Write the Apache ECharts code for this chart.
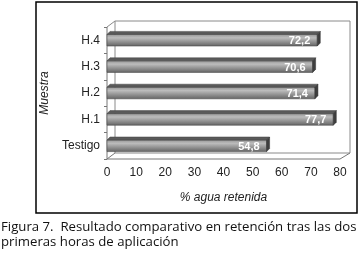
<!DOCTYPE html>
<html>
<head>
<meta charset="utf-8">
<script src="https://cdn.jsdelivr.net/npm/echarts@6/dist/echarts.min.js"></script>
<style>
html,body{margin:0;padding:0;background:#fff;}
#main{width:364px;height:261px;}
</style>
</head>
<body>
<div id="main"></div>
<script>
// datos
var muestras = ['Testigo', 'H.1', 'H.2', 'H.3', 'H.4'];
var agua = [54.8, 77.7, 71.4, 70.6, 72.2];
var ticksX = [0, 10, 20, 30, 40, 50, 60, 70, 80];

var fuente = '"Liberation Sans", Arial, sans-serif';
var D = 3; // profundidad de la barra

function barra3d(params, api) {
	var v = api.value(0), c = api.value(1);
	var p0 = api.coord([0, c]);
	var p1 = api.coord([v, c]);
	var h = api.size([0, 1])[1] * 0.44;
	var x0 = p0[0], x1 = p1[0], yt = p0[1] - h / 2, yb = p0[1] + h / 2;
	return {
		type: 'group',
		children: [{
			type: 'rect',
			shape: {x: x0, y: yt, width: x1 - x0, height: h},
			style: {
				fill: new echarts.graphic.LinearGradient(0, 0, 0, 1, [
					{offset: 0, color: '#949494'},
					{offset: 0.3, color: '#bcbcbc'},
					{offset: 1, color: '#636363'}
				]),
				stroke: '#4a4a4a', lineWidth: 0.6
			}
		}, {
			type: 'polygon',
			shape: {points: [[x0, yt], [x0 + D, yt - D], [x1 + D, yt - D], [x1, yt]]},
			style: {fill: '#5a5a5a', stroke: '#444', lineWidth: 0.5}
		}, {
			type: 'polygon',
			shape: {points: [[x1, yt], [x1 + D, yt - D], [x1 + D, yb - D], [x1, yb]]},
			style: {fill: '#3e3e3e', stroke: '#333', lineWidth: 0.5}
		}, {
			type: 'text',
			style: {
				text: String(v).replace('.', ','),
				x: x1 - 7, y: p0[1] + 1,
				align: 'right', verticalAlign: 'middle',
				fill: '#fff', font: 'bold 11px ' + fuente
			}
		}]
	};
}

var chart = echarts.init(document.getElementById('main'));
chart.setOption({
	backgroundColor: '#fff',
	animation: false,
	graphic: [{
		type: 'rect', shape: {x: 36, y: 2, width: 321, height: 211},
		style: {fill: 'none', stroke: '#000', lineWidth: 1.5}
	}, {
		type: 'polyline', shape: {points: [[107, 27], [115, 21], [350, 21], [350, 153], [115, 153], [115, 21]]},
		style: {stroke: '#8a8a8a', lineWidth: 1, fill: 'none'}
	}, {
		type: 'polyline', shape: {points: [[107, 159], [107, 27]]},
		style: {stroke: '#777', lineWidth: 1, fill: 'none'}
	}, {
		type: 'polyline', shape: {points: [[107, 159], [115, 153]]},
		style: {stroke: '#777', lineWidth: 1, fill: 'none'}
	}, {
		type: 'polyline', shape: {points: [[107, 159], [340, 159], [350, 153]]},
		style: {stroke: '#777', lineWidth: 1, fill: 'none'}
	}, {
		type: 'text', left: 1, top: 220,
		style: {
			text: 'Figura 7.  Resultado comparativo en retención tras las dos\nprimeras horas de aplicación',
			font: '13.2px "Open Sans", ' + fuente, fill: '#111', lineHeight: 15
		}
	}],
	grid: {left: 107, top: 27, width: 233, height: 132},
	xAxis: {
		type: 'value', min: ticksX[0], max: ticksX[ticksX.length - 1], interval: 10,
		name: '% agua retenida', nameLocation: 'middle', nameGap: 33,
		nameTextStyle: {fontStyle: 'italic', fontSize: 12, color: '#222', fontFamily: fuente},
		axisLine: {show: false}, axisTick: {show: false}, splitLine: {show: false},
		axisLabel: {fontSize: 12, color: '#222', margin: 8, fontFamily: fuente}
	},
	yAxis: {
		type: 'category', data: muestras,
		name: 'Muestra', nameLocation: 'middle', nameGap: 55,
		nameTextStyle: {fontStyle: 'italic', fontSize: 12, color: '#222', fontFamily: fuente},
		axisLine: {show: false},
		axisTick: {show: true, length: 3, lineStyle: {color: '#777'}},
		axisLabel: {fontSize: 12, color: '#222', margin: 7, fontFamily: fuente}
	},
	series: [{
		type: 'custom',
		renderItem: barra3d,
		encode: {x: 0, y: 1},
		data: agua.map(function (v, i) { return [v, i]; })
	}]
});
</script>
</body>
</html>
